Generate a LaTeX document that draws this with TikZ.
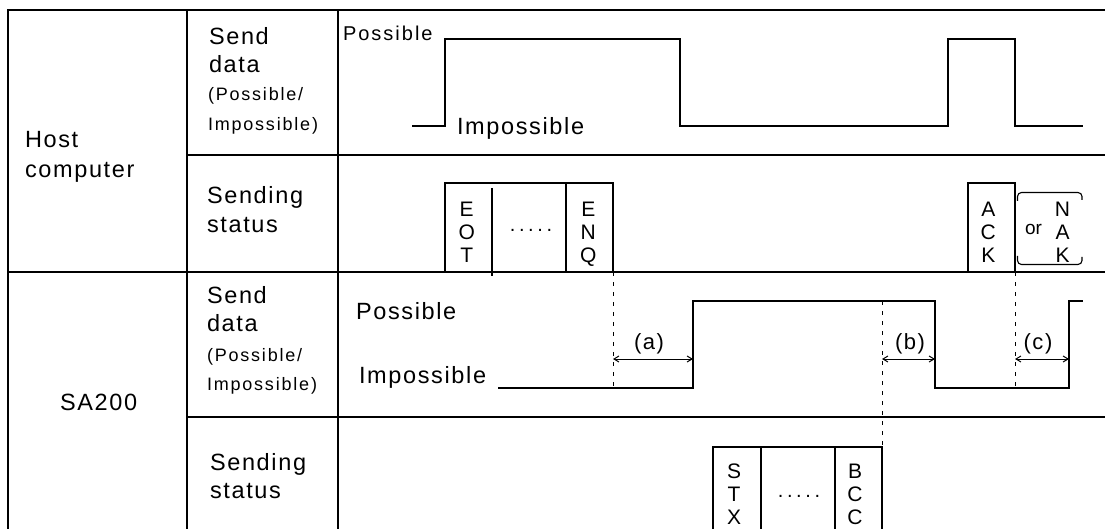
\documentclass[tikz,border=0pt]{standalone}
\usepackage{fontspec}
\setmainfont{Liberation Sans}
\newfontfamily\trk[LetterSpace=7]{Liberation Sans}
\newfontfamily\trkw[LetterSpace=10]{Liberation Sans}
\newfontfamily\dotfont[LetterSpace=18]{Liberation Sans}
\usetikzlibrary{arrows.meta}

\tikzset{
  grid/.style={line width=2.6pt, line join=miter},
  wave/.style={line width=1.2pt, line join=miter},
  frame/.style={line width=1.1pt},
  guide/.style={line width=1pt, dash pattern=on 4pt off 6pt},
  span/.style={line width=1pt,
    {Straight Barb[length=5pt,width=6pt]}-{Straight Barb[length=5pt,width=6pt]}},
  lbl/.style={anchor=base west, inner sep=0pt, outer sep=0pt},
  big/.style={lbl, font=\trk\fontsize{23.5}{27}\selectfont},
  small/.style={lbl, font=\trkw\fontsize{18}{20}\selectfont},
  mid/.style={lbl, font=\trkw\fontsize{20}{22}\selectfont},
  letter/.style={anchor=base, inner sep=0pt, outer sep=0pt, font=\fontsize{21}{22}\selectfont},
  ellipsis/.style={anchor=base, inner sep=0pt, outer sep=0pt, font=\dotfont\fontsize{20}{22}\selectfont},
  gaplabel/.style={anchor=base, inner sep=0pt, outer sep=0pt, font=\trk\fontsize{22}{24}\selectfont},
}

% vertical stack of letters: name, x, first baseline, line step, letters
\newcommand\vletters[5]{%
  \foreach \ch [count=\i from 0] in {#5} {%
    \node[letter] (#1-\i) at (#2, #3+\i*#4) {\ch};}}

\begin{document}
\begin{tikzpicture}[x=1pt, y=-1pt]
\useasboundingbox (0,0) rectangle (1105,529);

% ---- table grid ----
\draw[grid] (8,535) -- (8,10) -- (1105,10);
\draw[grid] (187,10) -- (187,535);
\draw[grid] (338,10) -- (338,535);
\draw[grid] (187,155) -- (1105,155);
\draw[grid] (8,272) -- (1105,272);
\draw[grid] (187,417) -- (1105,417);

% ---- row headings ----
\node[big] (host1) at (25,148) {Host};
\node[big] (host2) at (25,178) {computer};
\node[big] (sa) at (60,410) {SA200};

\node[big]   (hsd1) at (209,45)    {Send};
\node[big]   (hsd2) at (209,72.7)  {data};
\node[small] (hsd3) at (208,101)   {(Possible/};
\node[small] (hsd4) at (208,131)   {Impossible)};
\node[big]   (hss1) at (207,204)   {Sending};
\node[big]   (hss2) at (207,233)   {status};

\node[big]   (ssd1) at (207,303)   {Send};
\node[big]   (ssd2) at (207,331.7) {data};
\node[small] (ssd3) at (207,361.5) {(Possible/};
\node[small] (ssd4) at (207,390)   {Impossible)};
\node[big]   (sss1) at (210,470.5) {Sending};
\node[big]   (sss2) at (210,498)   {status};

% ---- host send-data signal ----
\node[mid] (hpos) at (343,41)  {Possible};
\node[big] (himp) at (457,135) {Impossible};
\draw[wave] (412,126) -- (445,126) -- (445,39) -- (680,39) -- (680,126)
  -- (948,126) -- (948,39) -- (1015,39) -- (1015,126) -- (1083,126);

% ---- host sending status ----
\draw[frame] (445,272) -- (445,183) -- (613,183) -- (613,272);
\draw[frame] (492,188) -- (492,276);
\draw[frame] (566,183) -- (566,272);
\vletters{eot}{466.7}{217}{22.5}{E,O,T}
\node[ellipsis] (hdots) at (531,231.5) {.....};
\vletters{enq}{588.3}{217}{22.5}{E,N,Q}

\draw[frame] (968,272) -- (968,183) -- (1015,183) -- (1015,272);
\vletters{ack}{988.3}{217}{22.5}{A,C,K}
\node[lbl, font=\fontsize{19}{21}\selectfont] (or) at (1025,235) {or};
\vletters{nak}{1062.5}{216.5}{23}{N,A,K}
\draw[frame, rounded corners=4pt] (1017.5,201) -- (1017.5,192.5) -- (1082,192.5) -- (1082,200);
\draw[frame, rounded corners=4pt] (1017.5,256) -- (1017.5,264.5) -- (1082,264.5) -- (1082,257);

% ---- SA200 send-data signal ----
\node[big] (spos) at (356,319) {Possible};
\node[big] (simp) at (359,383) {Impossible};
\draw[wave] (498,388) -- (693,388) -- (693,301) -- (935,301) -- (935,388)
  -- (1069,388) -- (1069,301) -- (1083,301);

% ---- timing references ----
\coordinate (ta) at (613,272);
\coordinate (ta-end) at (613,388);
\coordinate (tb) at (882,301);
\coordinate (tb-end) at (882,447);
\coordinate (tc) at (1015,272);
\coordinate (tc-end) at (1015,388);
\draw[guide] (ta) -- (ta-end);
\draw[guide] (tb) -- (tb-end);
\draw[guide] (tc) -- (tc-end);

\coordinate (a-from) at (613,359);  \coordinate (a-to) at (693,359);
\coordinate (b-from) at (882,359);  \coordinate (b-to) at (935,359);
\coordinate (c-from) at (1015,359); \coordinate (c-to) at (1069,359);
\draw[span] (a-from) -- (a-to);
\draw[span] (b-from) -- (b-to);
\draw[span] (c-from) -- (c-to);
\node[gaplabel] (la) at (649,349)  {(a)};
\node[gaplabel] (lb) at (910,349)  {(b)};
\node[gaplabel] (lc) at (1038,349) {(c)};

% ---- SA200 sending status ----
\draw[frame] (713,535) -- (713,447) -- (882,447) -- (882,535);
\draw[frame] (761,447) -- (761,535);
\draw[frame] (835,447) -- (835,535);
\vletters{stx}{734}{478}{23}{S,T,X}
\node[ellipsis] (sdots) at (799,497) {.....};
\vletters{bcc}{855}{478}{23}{B,C,C}

\end{tikzpicture}
\end{document}
